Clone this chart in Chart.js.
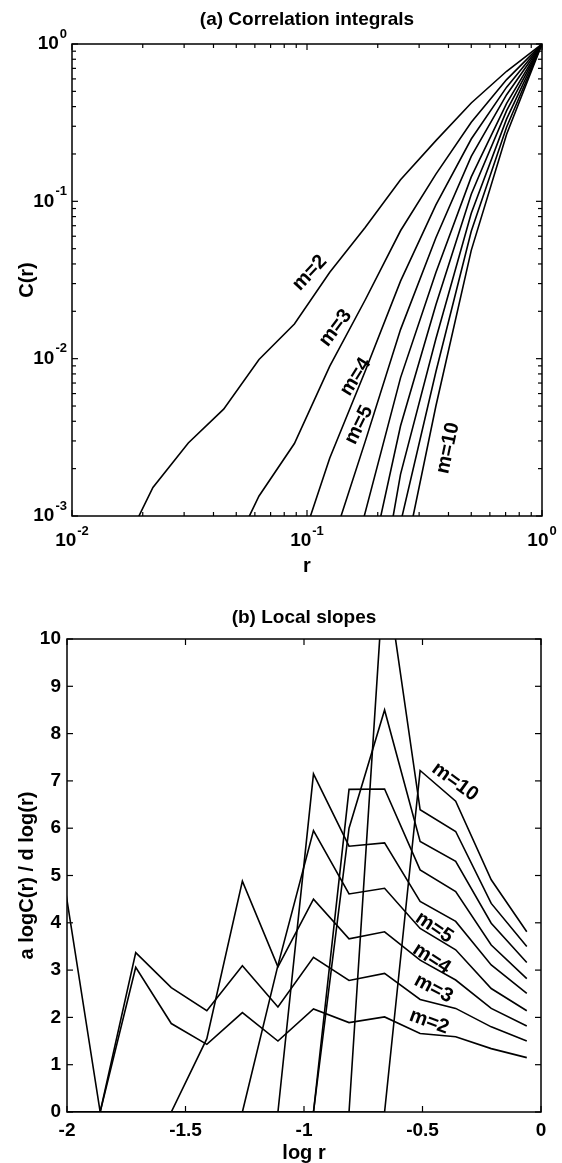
<!DOCTYPE html>
<html>
<head>
<meta charset="utf-8">
<script src="https://cdn.jsdelivr.net/npm/chart.js@4.4.1/dist/chart.umd.min.js"></script>
<style>
  html, body { margin: 0; padding: 0; background: #fff; }
  #wrap { position: relative; width: 562px; height: 1163px; background: #fff; }
  canvas { position: absolute; left: 0; }
  #corr { top: 0; }
  #slopes { top: 581px; }
</style>
</head>
<body>
<div id="wrap">
  <canvas id="corr" width="562" height="581"></canvas>
  <canvas id="slopes" width="562" height="582"></canvas>
</div>
<script>
// ---------- (a) correlation integrals C(r) for embedding dimensions m = 2..10 ----------
const radius = [1, 0.7071, 0.5, 0.3536, 0.25, 0.1768, 0.125, 0.08839, 0.0625, 0.04419, 0.03125, 0.0221, 0.01563, 0.01105, 0.00781];
const corrM2  = [1, 0.671, 0.422, 0.243, 0.137, 0.0682, 0.0354, 0.0166, 0.00989, 0.00478, 0.00291, 0.00152, 0.000527, 0.000527, 0.0000757];
const corrM3  = [1, 0.594, 0.318, 0.149, 0.0650, 0.0236, 0.00897, 0.00289, 0.00134, 0.000459, 0.000219, 0.0000879, 0.0000274, null, null];
const corrM4  = [1, 0.532, 0.249, 0.0948, 0.0311, 0.00832, 0.00234, 0.000492, 0.000170, 0.0000313, 0.0000186, null, null, null, null];
const corrM5  = [1, 0.476, 0.193, 0.0587, 0.0153, 0.00297, 0.000601, 0.0000766, 0.0000261, null, null, null, null, null, null];
const corrM6  = [1, 0.419, 0.143, 0.0353, 0.00755, 0.00105, 0.000150, 0.0000126, null, null, null, null, null, null, null];
const corrM7  = [1, 0.377, 0.111, 0.0220, 0.00373, 0.000351, 0.0000330, null, null, null, null, null, null, null, null];
const corrM8  = [1, 0.334, 0.0839, 0.0134, 0.00184, 0.0000968, 0.0000121, null, null, null, null, null, null, null, null];
const corrM9  = [1, 0.297, 0.0646, 0.00826, 0.000902, 0.0000162, null, null, null, null, null, null, null, null, null];
const corrM10 = [1, 0.267, 0.0488, 0.00500, 0.000409, null, null, null, null, null, null, null, null, null, null];

// ---------- (b) local slopes d logC(r) / d log(r) ----------
const logR     = [-0.06, -0.21, -0.36, -0.51, -0.66, -0.81, -0.96, -1.11, -1.26, -1.41, -1.56, -1.71, -1.86, -2.01];
const slopeM2  = [1.15, 1.34, 1.59, 1.66, 2.01, 1.89, 2.18, 1.50, 2.10, 1.43, 1.87, 3.06, 0, 4.8];
const slopeM3  = [1.50, 1.80, 2.19, 2.38, 2.93, 2.78, 3.27, 2.22, 3.09, 2.14, 2.63, 3.37, 0, 0];
const slopeM4  = [1.82, 2.19, 2.79, 3.21, 3.81, 3.66, 4.50, 3.07, 4.88, 1.55, 0, 0, 0, 0];
const slopeM5  = [2.14, 2.61, 3.43, 3.88, 4.73, 4.61, 5.95, 3.10, 0, 0, 0, 0, 0, 0];
const slopeM6  = [2.51, 3.11, 4.03, 4.45, 5.69, 5.62, 7.15, 0, 0, 0, 0, 0, 0, 0];
const slopeM7  = [2.82, 3.53, 4.66, 5.12, 6.83, 6.82, 0, 0, 0, 0, 0, 0, 0, 0];
const slopeM8  = [3.16, 3.99, 5.30, 5.72, 8.50, 6.00, 0, 0, 0, 0, 0, 0, 0, 0];
const slopeM9  = [3.50, 4.41, 5.93, 6.39, 11.6, 0, 0, 0, 0, 0, 0, 0, 0, 0];
const slopeM10 = [3.81, 4.91, 6.57, 7.22, 0, 0, 0, 0, 0, 0, 0, 0, 0, 0];

// ---------- axis ticks ----------
const corrXTicks = [0.01, 0.1, 1];
const corrXExp   = ['-2', '-1', '0'];
const corrYTicks = [0.001, 0.01, 0.1, 1];
const corrYExp   = ['-3', '-2', '-1', '0'];
const slopeXTicks = [-2, -1.5, -1, -0.5, 0];
const slopeXText  = ['-2', '-1.5', '-1', '-0.5', '0'];
const slopeYTicks = [0, 1, 2, 3, 4, 5, 6, 7, 8, 9, 10];

const FONT = '"Liberation Sans", Arial, Helvetica, sans-serif';
const INK = '#000';
const TICK_FONT = 'bold 19px ' + FONT;
const EXP_FONT = 'bold 13px ' + FONT;
const TITLE_FONT = 'bold 19px ' + FONT;
const AXIS_FONT = 'bold 20px ' + FONT;
const CURVE_FONT = 'bold 20px ' + FONT;

function logMinor(decades) {
  const out = [];
  decades.forEach(d => { for (let k = 2; k <= 9; k++) out.push(k * Math.pow(10, d)); });
  return out;
}

function seg(ctx, x1, y1, x2, y2) {
  ctx.beginPath(); ctx.moveTo(x1, y1); ctx.lineTo(x2, y2); ctx.stroke();
}

// "10" with a raised exponent
function drawPower(ctx, exp, x, y, align) {
  ctx.font = TICK_FONT; const wb = ctx.measureText('10').width;
  ctx.font = EXP_FONT;  const we = ctx.measureText(exp).width;
  const x0 = align === 'right' ? x - wb - we - 1 : x - (wb + we + 1) / 2;
  ctx.textBaseline = 'middle'; ctx.textAlign = 'left';
  ctx.font = TICK_FONT; ctx.fillText('10', x0, y);
  ctx.font = EXP_FONT;  ctx.fillText(exp, x0 + wb + 1, y - 10);
}

function rotatedText(ctx, text, x, y, deg, font) {
  ctx.save();
  ctx.translate(x, y); ctx.rotate(deg * Math.PI / 180);
  ctx.font = font; ctx.textAlign = 'center'; ctx.textBaseline = 'middle';
  ctx.fillText(text, 0, 0);
  ctx.restore();
}

// Box frame with inward ticks on all four sides, tick labels, titles and curve labels.
function makeFrame(cfg) {
  return {
    id: 'frame',
    afterDatasetsDraw(chart) {
      const { ctx, chartArea: a, scales: { x, y } } = chart;
      ctx.save();
      ctx.strokeStyle = INK; ctx.fillStyle = INK;
      ctx.lineWidth = 1.5;
      ctx.strokeRect(a.left, a.top, a.right - a.left, a.bottom - a.top);
      ctx.lineWidth = 1.2;
      cfg.xMajor.forEach(v => { const p = x.getPixelForValue(v); seg(ctx, p, a.bottom, p, a.bottom - 6); seg(ctx, p, a.top, p, a.top + 6); });
      cfg.xMinor.forEach(v => { const p = x.getPixelForValue(v); seg(ctx, p, a.bottom, p, a.bottom - 4); seg(ctx, p, a.top, p, a.top + 4); });
      cfg.yMajor.forEach(v => { const p = y.getPixelForValue(v); seg(ctx, a.left, p, a.left + 6, p); seg(ctx, a.right, p, a.right - 6, p); });
      cfg.yMinor.forEach(v => { const p = y.getPixelForValue(v); seg(ctx, a.left, p, a.left + 4, p); seg(ctx, a.right, p, a.right - 4, p); });

      cfg.drawTickLabels(ctx, a, x, y);

      ctx.textAlign = 'center'; ctx.textBaseline = 'middle';
      ctx.font = TITLE_FONT;
      ctx.fillText(cfg.title, (a.left + a.right) / 2, cfg.titleY);
      ctx.font = AXIS_FONT;
      ctx.fillText(cfg.xTitle, (a.left + a.right) / 2, cfg.xTitleY);
      rotatedText(ctx, cfg.yTitle, cfg.yTitleX, (a.top + a.bottom) / 2, -90, AXIS_FONT);

      cfg.curveLabels.forEach(l => {
        rotatedText(ctx, l.text, x.getPixelForValue(l.x), y.getPixelForValue(l.y), l.angle, CURVE_FONT);
      });
      ctx.restore();
    }
  };
}

function lineSet(xs, ys) {
  return {
    data: xs.map((v, i) => ({ x: v, y: ys[i] })),
    borderColor: INK, borderWidth: 1.6, pointRadius: 0, tension: 0, fill: false, spanGaps: false
  };
}

const baseOptions = {
  responsive: false, animation: false, events: [],
  plugins: { legend: { display: false }, tooltip: { enabled: false }, title: { display: false } }
};

// ---- chart (a) ----
new Chart(document.getElementById('corr'), {
  type: 'line',
  data: { datasets: [corrM2, corrM3, corrM4, corrM5, corrM6, corrM7, corrM8, corrM9, corrM10].map(s => lineSet(radius, s)) },
  options: Object.assign({}, baseOptions, {
    layout: { padding: { left: 72, right: 20, top: 44, bottom: 65 } },
    scales: {
      x: { type: 'logarithmic', min: 0.01, max: 1, display: false },
      y: { type: 'logarithmic', min: 0.001, max: 1, display: false }
    }
  }),
  plugins: [makeFrame({
    xMajor: corrXTicks, xMinor: logMinor([-2, -1]),
    yMajor: corrYTicks, yMinor: logMinor([-3, -2, -1]),
    title: '(a) Correlation integrals', titleY: 20,
    xTitle: 'r', xTitleY: 566,
    yTitle: 'C(r)', yTitleX: 27,
    curveLabels: [
      { text: 'm=2',  x: 0.1027, y: 0.0351,  angle: -47 },
      { text: 'm=3',  x: 0.1324, y: 0.01567, angle: -53 },
      { text: 'm=4',  x: 0.161,  y: 0.00766, angle: -58 },
      { text: 'm=5',  x: 0.1665, y: 0.00379, angle: -64 },
      { text: 'm=10', x: 0.398,  y: 0.0027,  angle: -78 }
    ],
    drawTickLabels(ctx, a, x, y) {
      corrXTicks.forEach((v, i) => drawPower(ctx, corrXExp[i], x.getPixelForValue(v), 541, 'center'));
      corrYTicks.forEach((v, i) => drawPower(ctx, corrYExp[i], a.left - 5, y.getPixelForValue(v), 'right'));
    }
  })]
});

// ---- chart (b) ----
new Chart(document.getElementById('slopes'), {
  type: 'line',
  data: { datasets: [slopeM2, slopeM3, slopeM4, slopeM5, slopeM6, slopeM7, slopeM8, slopeM9, slopeM10].map(s => lineSet(logR, s)) },
  options: Object.assign({}, baseOptions, {
    layout: { padding: { left: 67, right: 21, top: 58, bottom: 51 } },
    scales: {
      x: { type: 'linear', min: -2, max: 0, display: false },
      y: { type: 'linear', min: 0, max: 10, display: false }
    }
  }),
  plugins: [makeFrame({
    xMajor: slopeXTicks, xMinor: [],
    yMajor: slopeYTicks, yMinor: [],
    title: '(b) Local slopes', titleY: 37,
    xTitle: 'log r', xTitleY: 572,
    yTitle: 'a logC(r) / d log(r)', yTitleX: 27,
    curveLabels: [
      { text: 'm=10', x: -0.363, y: 6.98, angle: 36 },
      { text: 'm=5',  x: -0.451, y: 3.90, angle: 34 },
      { text: 'm=4',  x: -0.462, y: 3.24, angle: 33 },
      { text: 'm=3',  x: -0.454, y: 2.61, angle: 28 },
      { text: 'm=2',  x: -0.472, y: 1.91, angle: 20 }
    ],
    drawTickLabels(ctx, a, x, y) {
      ctx.font = TICK_FONT; ctx.textBaseline = 'middle';
      ctx.textAlign = 'center';
      slopeXTicks.forEach((v, i) => ctx.fillText(slopeXText[i], x.getPixelForValue(v), a.bottom + 19));
      ctx.textAlign = 'right';
      slopeYTicks.forEach(v => ctx.fillText(String(v), a.left - 6, y.getPixelForValue(v)));
    }
  })]
});
</script>
</body>
</html>
